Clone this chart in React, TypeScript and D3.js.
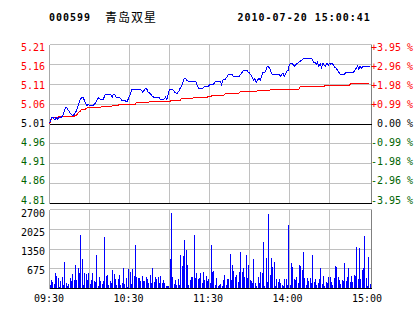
import React from 'react';
import * as d3 from 'd3';

const stockCode = '000599';
const stockName = '青岛双星';
const dateText = '2010-07-20 15:00:41';
const prevClose = 5.01;
const maxPct = 3.95;

const price = [
  5.012, 5.022, 5.027, 5.025, 5.020, 5.027, 5.022, 5.027, 5.025, 5.027,
  5.032, 5.042, 5.050, 5.050, 5.045, 5.040, 5.035, 5.032, 5.032, 5.037,
  5.042, 5.050, 5.062, 5.070, 5.075, 5.077, 5.070, 5.062, 5.055, 5.060,
  5.055, 5.057, 5.057, 5.057, 5.060, 5.065, 5.072, 5.075, 5.072, 5.070,
  5.070, 5.077, 5.084, 5.084, 5.084, 5.084, 5.084, 5.077, 5.084, 5.084,
  5.077, 5.075, 5.077, 5.075, 5.070, 5.067, 5.070, 5.067, 5.065, 5.072,
  5.079, 5.089, 5.097, 5.097, 5.097, 5.097, 5.097, 5.097, 5.097, 5.094,
  5.089, 5.094, 5.099, 5.097, 5.089, 5.087, 5.084, 5.079, 5.077, 5.077,
  5.077, 5.077, 5.077, 5.072, 5.072, 5.072, 5.072, 5.077, 5.072, 5.084,
  5.097, 5.097, 5.097, 5.094, 5.089, 5.087, 5.087, 5.092, 5.099, 5.104,
  5.114, 5.124, 5.124, 5.119, 5.117, 5.117, 5.117, 5.117, 5.117, 5.117,
  5.114, 5.104, 5.099, 5.099, 5.099, 5.099, 5.102, 5.104, 5.104, 5.104,
  5.107, 5.109, 5.109, 5.109, 5.114, 5.117, 5.117, 5.117, 5.117, 5.109,
  5.119, 5.122, 5.122, 5.127, 5.132, 5.132, 5.132, 5.134, 5.127, 5.127,
  5.127, 5.127, 5.127, 5.132, 5.137, 5.141, 5.144, 5.144, 5.144, 5.139,
  5.137, 5.132, 5.127, 5.119, 5.124, 5.114, 5.119, 5.124, 5.119, 5.129,
  5.137, 5.137, 5.141, 5.151, 5.154, 5.149, 5.141, 5.134, 5.134, 5.134,
  5.134, 5.134, 5.134, 5.129, 5.132, 5.137, 5.129, 5.134, 5.141, 5.144,
  5.159, 5.161, 5.161, 5.156, 5.154, 5.159, 5.161, 5.164, 5.166, 5.169,
  5.171, 5.174, 5.174, 5.174, 5.174, 5.174, 5.174, 5.171, 5.164, 5.164,
  5.159, 5.164, 5.154, 5.161, 5.151, 5.161, 5.156, 5.154, 5.161, 5.156,
  5.161, 5.159, 5.161, 5.156, 5.151, 5.149, 5.144, 5.139, 5.134, 5.134,
  5.134, 5.134, 5.137, 5.139, 5.139, 5.139, 5.139, 5.139, 5.139, 5.144,
  5.149, 5.154, 5.146, 5.154, 5.149, 5.154, 5.154, 5.154, 5.154, 5.154, 5.154,
];

const avgPrice = [
  5.010, 5.020, 5.026, 5.026, 5.026, 5.026, 5.026, 5.028, 5.028, 5.028,
  5.028, 5.028, 5.028, 5.028, 5.028, 5.028, 5.028, 5.028, 5.028, 5.031,
  5.031, 5.035, 5.040, 5.042, 5.047, 5.047, 5.047, 5.047, 5.050, 5.050,
  5.050, 5.050, 5.050, 5.050, 5.050, 5.050, 5.050, 5.050, 5.050, 5.053,
  5.053, 5.053, 5.053, 5.053, 5.053, 5.053, 5.053, 5.055, 5.055, 5.055,
  5.055, 5.055, 5.058, 5.058, 5.058, 5.058, 5.058, 5.058, 5.058, 5.058,
  5.058, 5.058, 5.058, 5.058, 5.058, 5.063, 5.063, 5.063, 5.063, 5.063,
  5.063, 5.063, 5.063, 5.063, 5.063, 5.065, 5.065, 5.065, 5.065, 5.065,
  5.065, 5.065, 5.065, 5.065, 5.065, 5.065, 5.065, 5.065, 5.065, 5.065,
  5.065, 5.068, 5.068, 5.068, 5.068, 5.068, 5.068, 5.068, 5.068, 5.074,
  5.074, 5.074, 5.074, 5.074, 5.074, 5.074, 5.074, 5.074, 5.076, 5.076,
  5.076, 5.076, 5.076, 5.076, 5.076, 5.076, 5.076, 5.076, 5.076, 5.078,
  5.078, 5.078, 5.082, 5.082, 5.082, 5.082, 5.082, 5.082, 5.082, 5.082,
  5.082, 5.082, 5.086, 5.086, 5.086, 5.086, 5.086, 5.086, 5.086, 5.086,
  5.086, 5.086, 5.086, 5.090, 5.090, 5.090, 5.090, 5.090, 5.090, 5.090,
  5.090, 5.090, 5.090, 5.090, 5.090, 5.090, 5.094, 5.094, 5.094, 5.094,
  5.094, 5.094, 5.094, 5.094, 5.094, 5.094, 5.097, 5.097, 5.097, 5.097,
  5.097, 5.097, 5.097, 5.097, 5.097, 5.097, 5.097, 5.097, 5.097, 5.097,
  5.097, 5.097, 5.097, 5.097, 5.097, 5.097, 5.097, 5.097, 5.103, 5.103,
  5.103, 5.103, 5.103, 5.103, 5.103, 5.103, 5.103, 5.103, 5.103, 5.103,
  5.103, 5.103, 5.103, 5.103, 5.103, 5.103, 5.103, 5.107, 5.107, 5.107,
  5.107, 5.107, 5.107, 5.107, 5.107, 5.107, 5.107, 5.107, 5.107, 5.107,
  5.107, 5.107, 5.107, 5.107, 5.107, 5.107, 5.111, 5.111, 5.111, 5.111,
  5.111, 5.111, 5.111, 5.111, 5.111, 5.111, 5.111, 5.111, 5.111, 5.111, 5.113,
];

const volume = [
  114, 274, 228, 137, 524, 433, 342, 57, 250, 388,
  114, 912, 194, 100, 160, 342, 250, 500, 274, 798,
  285, 707, 524, 1824, 1003, 114, 524, 479, 296, 513,
  137, 274, 524, 250, 228, 1140, 80, 388, 250, 160,
  250, 1756, 433, 456, 114, 250, 205, 616, 500, 319,
  114, 319, 456, 114, 205, 684, 137, 342, 68, 650,
  570, 148, 650, 422, 1480, 400, 342, 342, 262, 422,
  262, 262, 376, 308, 194, 456, 171, 684, 228, 376,
  308, 400, 194, 422, 171, 285, 171, 80, 80, 80,
  1025, 2565, 376, 148, 285, 114, 308, 114, 1140, 760,
  1105, 1650, 1310, 800, 114, 285, 376, 376, 1820, 342,
  513, 308, 342, 535, 171, 560, 300, 420, 250, 308,
  194, 1480, 570, 604, 114, 342, 80, 114, 148, 80,
  285, 456, 114, 308, 308, 1174, 285, 800, 604, 400,
  456, 228, 570, 1254, 570, 684, 376, 1140, 342, 800,
  285, 262, 171, 992, 171, 80, 376, 194, 570, 535,
  1596, 80, 1026, 228, 2542, 456, 1026, 718, 912, 80,
  308, 228, 308, 194, 114, 80, 308, 308, 114, 2166,
  114, 878, 741, 308, 285, 376, 171, 800, 775, 627,
  1254, 342, 114, 342, 262, 342, 171, 1140, 228, 308,
  114, 194, 308, 684, 148, 422, 80, 228, 171, 376,
  376, 228, 114, 342, 764, 718, 376, 285, 148, 285,
  262, 878, 262, 376, 684, 228, 422, 228, 456, 422,
  1402, 308, 1368, 308, 627, 684, 1790, 342, 80, 1060, 150,
];

const priceLabels = ['5.21', '5.16', '5.11', '5.06', '5.01', '4.96', '4.91', '4.86', '4.81'];
const pctLabels = ['+3.95 %', '+2.96 %', '+1.98 %', '+0.99 %', ' 0.00 %', '-0.99 %', '-1.98 %', '-2.96 %', '-3.95 %'];
const volTicks = [2700, 2025, 1350, 675];
const timeLabels = ['09:30', '10:30', '11:30', '14:00', '15:00'];

const RED = '#ff0000';
const GREEN = '#006400';
const BLUE = '#0000ff';
const GRID = '#c0c0c0';
const MONO = '"DejaVu Sans Mono", monospace';

export default function App() {
  const W = 414, H = 314;
  const x = d3.scaleLinear().domain([0, 240]).range([49.5, 369.5]);
  const lo = prevClose * (1 - maxPct / 100);
  const hi = prevClose * (1 + maxPct / 100);
  const y = d3.scaleLinear().domain([lo, hi]).range([203.5, 44.5]);
  const yv = d3.scaleLinear().domain([0, 2700]).range([288.5, 209.5]);
  const labelY = d3.scaleLinear().domain([0, 8]).range([50.5, 203.5]);
  const volLabelY = d3.scaleLinear().domain([0, 3]).range([217, 274]);
  const timeX = d3.scaleLinear().domain([0, 4]).range([49, 367]);

  const gridLevels = d3.range(9).map((k) => hi - (k * (hi - lo)) / 8);
  const vGrid = d3.range(1, 8).map((k) => x(k * 30));

  const line = d3.line<number>().x((_, i) => x(i)).y((d) => y(d));
  const left = 49.5, right = 371.5;

  const labelColor = (k: number) => (k < 4 ? RED : k === 4 ? '#000' : GREEN);

  return (
    <svg width={W} height={H} style={{ position: 'absolute', left: 0, top: 0, background: '#fff' }}>
      <rect x={0} y={0} width={W} height={H} fill="#fff" />
      {/* title */}
      <text x={49} y={21} fontFamily={MONO} fontSize={10} fontWeight="bold" letterSpacing={1} fill="#000">{stockCode}</text>
      <text x={105} y={22} fontFamily='"Noto Sans CJK SC", sans-serif' fontSize={12} letterSpacing={1} fill="#000">{stockName}</text>
      <text x={237.5} y={21} fontFamily={MONO} fontSize={10} fontWeight="bold" letterSpacing={1} fill="#000">{dateText}</text>

      {/* price grid */}
      <g shapeRendering="crispEdges">
        {gridLevels.slice(1, 8).map((v, k) => (
          k + 1 === 4 ? null : <line key={'h' + k} x1={left} x2={right} y1={y(v)} y2={y(v)} stroke={GRID} />
        ))}
        {vGrid.map((gx, k) => (
          <line key={'v' + k} x1={gx} x2={gx} y1={44.5} y2={203.5} stroke={GRID} />
        ))}
        <line x1={left} x2={right} y1={44.5} y2={44.5} stroke={GRID} />
        <line x1={left} x2={left} y1={44.5} y2={203.5} stroke="#a8a8a8" />
        <line x1={right} x2={right} y1={44.5} y2={203.5} stroke="#808080" />
        <line x1={left} x2={right} y1={y(prevClose)} y2={y(prevClose)} stroke="#000" />
        <line x1={left} x2={right} y1={203.5} y2={203.5} stroke="#000" strokeWidth={1.5} />
      </g>

      {/* volume grid */}
      <g shapeRendering="crispEdges">
        {volTicks.slice(1).map((v) => (
          <line key={'vg' + v} x1={left} x2={right} y1={yv(v)} y2={yv(v)} stroke={GRID} />
        ))}
        {vGrid.map((gx, k) => (
          <line key={'vv' + k} x1={gx} x2={gx} y1={209.5} y2={288.5} stroke={GRID} />
        ))}
        <line x1={left} x2={right} y1={209.5} y2={209.5} stroke={GRID} />
        <line x1={left} x2={left} y1={209.5} y2={288.5} stroke="#a8a8a8" />
        <line x1={right} x2={right} y1={209.5} y2={288.5} stroke="#808080" />
      </g>

      {/* volume bars */}
      <g shapeRendering="crispEdges">
        {volume.map((v, i) => (
          <rect key={'b' + i} x={Math.round(x(i))} y={yv(v)} width={1} height={yv(0) - yv(v)} fill={BLUE} />
        ))}
        <line x1={left} x2={right} y1={288.5} y2={288.5} stroke="#000" strokeWidth={1.5} />
      </g>

      {/* price lines */}
      <path d={line(avgPrice) || ''} fill="none" stroke={RED} strokeWidth={1} shapeRendering="crispEdges" />
      <path d={line(price) || ''} fill="none" stroke={BLUE} strokeWidth={1} shapeRendering="crispEdges" />

      {/* left price labels */}
      {priceLabels.map((t, k) => (
        <text key={'pl' + k} x={45} y={labelY(k)} textAnchor="end" fontFamily={MONO} fontSize={10} fill={labelColor(k)}>{t}</text>
      ))}
      {/* right pct labels */}
      {pctLabels.map((t, k) => (
        <text key={'pr' + k} x={371} y={labelY(k)} fontFamily={MONO} fontSize={10} fill={labelColor(k)} style={{ whiteSpace: 'pre' }}>{t}</text>
      ))}
      {/* volume labels */}
      {volTicks.map((v, k) => (
        <text key={'vl' + k} x={45} y={volLabelY(k)} textAnchor="end" fontFamily={MONO} fontSize={10} fill="#000">{String(v)}</text>
      ))}
      {/* time labels */}
      {timeLabels.map((t, k) => (
        <text key={'tl' + k} x={timeX(k)} y={302} textAnchor="middle" fontFamily={MONO} fontSize={10} fill="#000">{t}</text>
      ))}
    </svg>
  );
}
